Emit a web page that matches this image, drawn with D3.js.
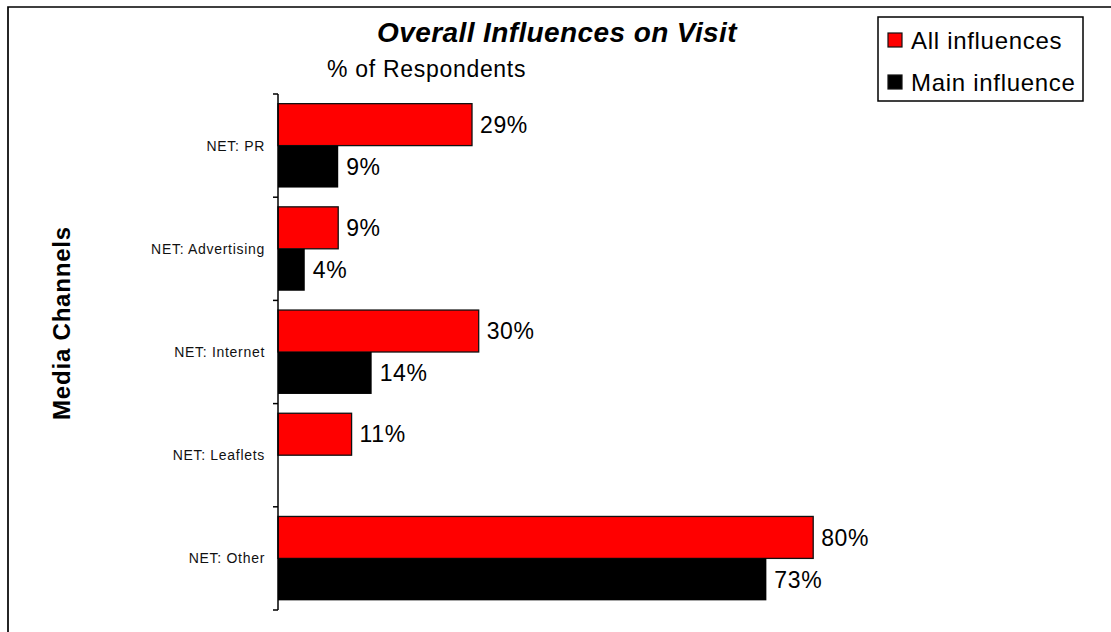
<!DOCTYPE html>
<html>
<head>
<meta charset="utf-8">
<script src="https://cdn.jsdelivr.net/npm/d3@7"></script>
<style>
  body { margin: 0; background: #fff; }
  svg { display: block; font-family: Arial, "Liberation Sans", sans-serif; }
</style>
</head>
<body>
<div id="chart"></div>
<script>
const categories = ["NET: PR", "NET: Advertising", "NET: Internet", "NET: Leaflets", "NET: Other"];
const seriesNames = ["All influences", "Main influence"];
const allInfluences = [29, 9, 30, 11, 80];
const mainInfluence = [9, 4, 14, null, 73];
const seriesColors = ["#ff0000", "#000000"];

const width = 1111,
  height = 632;

const svg = d3
  .select("#chart")
  .append("svg")
  .attr("width", width)
  .attr("height", height)
  .attr("viewBox", [0, 0, width, height]);

// chart frame (only left and top edges are inside the picture)
svg
  .append("path")
  .attr("d", `M8,${height + 5}V7H${width + 5}`)
  .attr("fill", "none")
  .attr("stroke", "#000")
  .attr("stroke-width", 1.7);

const x = d3.scaleLinear().domain([0, 100]).range([278, 947]);
const y = d3.scaleBand().domain(categories).range([94, 610]);
const y1 = d3
  .scaleBand()
  .domain(seriesNames)
  .range([0, y.bandwidth()])
  .paddingOuter(0.23);

const rows = categories.map((c, i) => ({
  category: c,
  values: [allInfluences[i], mainInfluence[i]],
}));

const groups = svg
  .append("g")
  .selectAll("g")
  .data(rows)
  .join("g")
  .attr("transform", (d) => `translate(0,${y(d.category)})`);

const bars = groups
  .selectAll("g")
  .data((d) =>
    d.values
      .map((v, i) => ({ series: seriesNames[i], value: v, i }))
      .filter((b) => b.value != null)
  )
  .join("g");

bars
  .append("rect")
  .attr("x", x(0))
  .attr("y", (d) => y1(d.series))
  .attr("width", (d) => x(d.value) - x(0))
  .attr("height", y1.bandwidth())
  .attr("fill", (d) => seriesColors[d.i])
  .attr("stroke", (d) => (d.i === 0 ? "#111" : "none"))
  .attr("stroke-width", 1.3);

bars
  .append("text")
  .attr("x", (d) => x(d.value) + 8)
  .attr("y", (d) => y1(d.series) + y1.bandwidth() / 2)
  .attr("dy", "0.36em")
  .attr("font-size", 23)
  .attr("letter-spacing", 0.6)
  .attr("fill", "#000")
  .text((d) => `${d.value}%`);

// category axis
const axisG = svg.append("g").attr("stroke", "#000").attr("stroke-width", 1.5);
axisG
  .append("line")
  .attr("x1", x(0))
  .attr("x2", x(0))
  .attr("y1", y.range()[0])
  .attr("y2", y.range()[1]);
axisG
  .selectAll(".tick")
  .data([...categories.map((c) => y(c)), y.range()[1]])
  .join("line")
  .attr("class", "tick")
  .attr("x1", x(0) - 5)
  .attr("x2", x(0))
  .attr("y1", (d) => d)
  .attr("y2", (d) => d);

svg
  .append("g")
  .selectAll("text")
  .data(categories)
  .join("text")
  .attr("x", 265)
  .attr("y", (d) => y(d) + y.bandwidth() / 2)
  .attr("dy", "0.36em")
  .attr("text-anchor", "end")
  .attr("font-size", 14)
  .attr("letter-spacing", 0.7)
  .attr("fill", "#111")
  .text((d) => d);

// titles
svg
  .append("text")
  .attr("x", 557)
  .attr("y", 42)
  .attr("text-anchor", "middle")
  .attr("font-size", 28)
  .attr("font-weight", "bold")
  .attr("font-style", "italic")
  .attr("letter-spacing", 0.4)
  .text("Overall Influences on Visit");

svg
  .append("text")
  .attr("x", 327)
  .attr("y", 77)
  .attr("font-size", 23)
  .attr("letter-spacing", 0.7)
  .text("% of Respondents");

svg
  .append("text")
  .attr("transform", "translate(70,323) rotate(-90)")
  .attr("text-anchor", "middle")
  .attr("font-size", 24)
  .attr("font-weight", "bold")
  .attr("letter-spacing", 0.8)
  .text("Media Channels");

// legend
const legend = svg.append("g");
legend
  .append("rect")
  .attr("x", 878)
  .attr("y", 17)
  .attr("width", 205)
  .attr("height", 84)
  .attr("fill", "#fff")
  .attr("stroke", "#000")
  .attr("stroke-width", 1.5);

const legendItem = legend
  .selectAll(".item")
  .data(seriesNames)
  .join("g")
  .attr("class", "item")
  .attr("transform", (d, i) => `translate(888,${33 + i * 42})`);

legendItem
  .append("rect")
  .attr("width", 14)
  .attr("height", 14)
  .attr("fill", (d, i) => seriesColors[i])
  .attr("stroke", "#111")
  .attr("stroke-width", 1.2);

legendItem
  .append("text")
  .attr("x", 23)
  .attr("y", 16)
  .attr("font-size", 24)
  .attr("letter-spacing", 0.7)
  .text((d) => d);
</script>
</body>
</html>
